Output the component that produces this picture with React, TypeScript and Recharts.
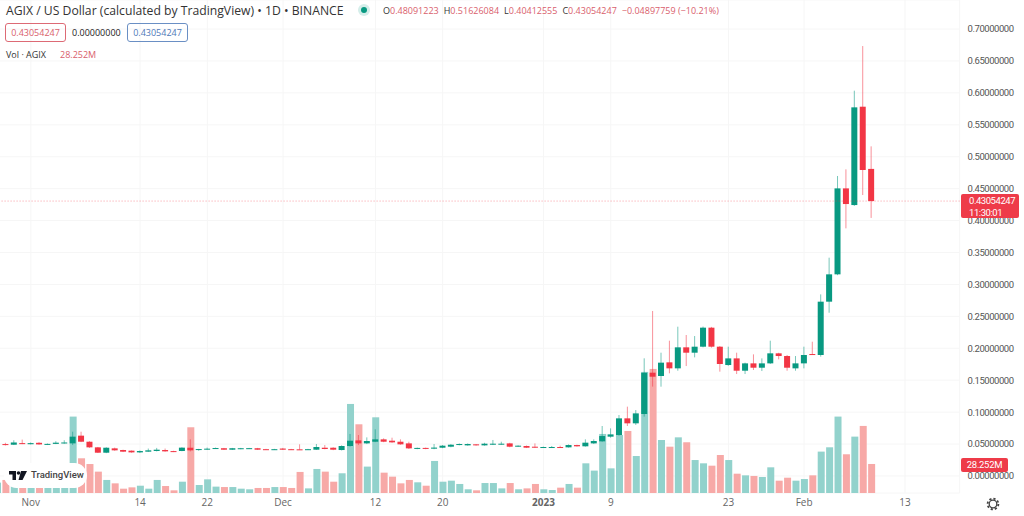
import React from "react";
import { ComposedChart, Bar, XAxis, YAxis, CartesianGrid, ReferenceLine } from "recharts";

const UP = "#089981";
const DOWN = "#f23645";
const UP_VOL = "#92d2cc";
const DOWN_VOL = "#f7a9a7";
const FONT = "'Open Sans', sans-serif";
const TIGHT = "Roboto, sans-serif";

// one entry per day, Oct 28 2022 to Feb 9 2023
const opens = [
  0.0485, 0.05, 0.049, 0.0515,
  0.0498, 0.052, 0.049, 0.0503, 0.051, 0.0511, 0.0632, 0.0537, 0.0449, 0.0365, 0.0433, 0.0407, 0.0397, 0.037, 0.0381,
  0.0392, 0.0407, 0.039, 0.0392, 0.0443, 0.0407, 0.0418, 0.0428, 0.0435, 0.0412, 0.0425, 0.0428, 0.0435, 0.042, 0.0414,
  0.043, 0.042, 0.0418, 0.0414, 0.0412, 0.0443, 0.0443, 0.0407, 0.047, 0.0558, 0.0511, 0.0537, 0.0574, 0.0553, 0.0537,
  0.0511, 0.0428, 0.044, 0.0428, 0.0443, 0.0459, 0.0485, 0.048, 0.0496, 0.048, 0.049, 0.0496, 0.0511, 0.0459, 0.047, 0.0459,
  0.0443, 0.0445, 0.0454, 0.0449, 0.0485, 0.0465, 0.0511, 0.0543, 0.0616, 0.0642, 0.0903, 0.0825, 0.0971, 0.1618, 0.1566,
  0.178, 0.1686, 0.2015, 0.1931, 0.2025, 0.2323, 0.2025, 0.1738, 0.1842, 0.1649, 0.1764, 0.1696, 0.1764, 0.1921, 0.1879, 0.1686,
  0.1764, 0.191, 0.1895, 0.273, 0.3158, 0.4504, 0.4243, 0.5783, 0.48091223,
];
const highs = [
  0.05, 0.052, 0.056, 0.057,
  0.0525, 0.053, 0.051, 0.0545, 0.056, 0.0694, 0.0694, 0.0545, 0.0455, 0.045, 0.0445, 0.0412, 0.04, 0.04, 0.043,
  0.044, 0.043, 0.0395, 0.045, 0.0574, 0.0425, 0.0445, 0.0445, 0.044, 0.044, 0.044, 0.044, 0.044, 0.0425, 0.0425,
  0.044, 0.0425, 0.0496, 0.0425, 0.0501, 0.0485, 0.045, 0.048, 0.0658, 0.0642, 0.0605, 0.0731, 0.059, 0.06, 0.0574,
  0.0537, 0.0445, 0.0445, 0.0501, 0.0485, 0.05, 0.051, 0.051, 0.05, 0.052, 0.0564, 0.0537, 0.052, 0.048, 0.0478, 0.0511,
  0.046, 0.047, 0.0475, 0.0495, 0.049, 0.0574, 0.0574, 0.0783, 0.0746, 0.0955, 0.1086, 0.1033, 0.1843, 0.2584, 0.1931,
  0.2119, 0.2338, 0.2208, 0.2192, 0.234, 0.2335, 0.2035, 0.2025, 0.1931, 0.1775, 0.1905, 0.1842, 0.2119, 0.193, 0.1895, 0.1879,
  0.2025, 0.2103, 0.2844, 0.3419, 0.4698, 0.4802, 0.6034, 0.6733, 0.51626084,
];
const lows = [
  0.048, 0.0478, 0.0485, 0.05,
  0.0495, 0.049, 0.0485, 0.05, 0.0505, 0.0485, 0.053, 0.044, 0.036, 0.0358, 0.0395, 0.0375, 0.0365, 0.036, 0.0378,
  0.0385, 0.038, 0.0375, 0.0388, 0.0385, 0.0395, 0.0412, 0.0425, 0.0408, 0.0408, 0.042, 0.0425, 0.0408, 0.041, 0.041,
  0.0408, 0.041, 0.041, 0.041, 0.0408, 0.0418, 0.0405, 0.04, 0.0459, 0.0485, 0.05, 0.053, 0.053, 0.052, 0.049,
  0.0423, 0.042, 0.042, 0.042, 0.0435, 0.045, 0.048, 0.0475, 0.0475, 0.0475, 0.0485, 0.049, 0.045, 0.0455, 0.0438, 0.044,
  0.044, 0.044, 0.044, 0.0445, 0.046, 0.046, 0.0501, 0.0537, 0.06, 0.063, 0.0783, 0.08, 0.093, 0.14, 0.1399,
  0.1608, 0.1649, 0.1722, 0.1858, 0.2015, 0.201, 0.1634, 0.1725, 0.1597, 0.1597, 0.166, 0.1644, 0.1755, 0.1827, 0.1649, 0.1649,
  0.1686, 0.1895, 0.1869, 0.2557, 0.3145, 0.3878, 0.423, 0.44, 0.40412555,
];
const closes = [
  0.0492, 0.0485, 0.0525, 0.0505,
  0.0515, 0.0495, 0.0503, 0.0522, 0.0525, 0.0616, 0.0537, 0.0449, 0.0365, 0.0443, 0.0402, 0.0381, 0.037, 0.0391, 0.0402,
  0.0412, 0.0386, 0.038, 0.0444, 0.0402, 0.0422, 0.0428, 0.0438, 0.0412, 0.0435, 0.0435, 0.0436, 0.0412, 0.0414, 0.042,
  0.0412, 0.0414, 0.0414, 0.042, 0.0454, 0.0423, 0.0412, 0.047, 0.0553, 0.0511, 0.0548, 0.0574, 0.0537, 0.0527, 0.0496,
  0.0433, 0.044, 0.0428, 0.0445, 0.0475, 0.049, 0.0501, 0.0501, 0.048, 0.0506, 0.0506, 0.0506, 0.0459, 0.0475, 0.0443, 0.0443,
  0.0454, 0.0454, 0.0445, 0.0485, 0.0465, 0.0522, 0.0548, 0.0626, 0.0652, 0.0903, 0.0825, 0.0981, 0.1617, 0.1555, 0.1775,
  0.1686, 0.2015, 0.1931, 0.2025, 0.2323, 0.2025, 0.1754, 0.1842, 0.1649, 0.1764, 0.1696, 0.1764, 0.1921, 0.1879, 0.1696, 0.1764,
  0.1895, 0.19, 0.273, 0.3158, 0.4504, 0.4259, 0.5773, 0.4792, 0.43054247,
];
// millions
const volumes = [
  10.1, 12.7, 6.5, 8,
  6, 7, 6, 7, 8, 74.4, 33.8, 28.2, 20.8, 12.7, 9.4, 4.2, 5.5, 7.1, 4.2,
  12.7, 6.8, 2.6, 11, 64, 7.8, 13.3, 6.2, 5.8, 5.8, 4.2, 3.6, 4.9, 4.9, 5.8,
  5.8, 4.9, 20.5, 4.5, 23.4, 20.8, 11, 19.2, 86.7, 66.9, 25.7, 73.7, 19.8, 15.9, 9.4,
  12.7, 10.4, 7.1, 31.2, 11, 12, 8.8, 3.6, 2.6, 9.7, 9.7, 4.5, 9.7, 3.6, 4.5, 8.8,
  3.6, 2.9, 5.2, 8.8, 5.2, 28.9, 21.8, 57.5, 24, 56.5, 60.4, 36, 117.9, 120.8, 51.6,
  45.1, 54.2, 49.4, 32.1, 28.9, 26.6, 37, 32.1, 18.8, 17.2, 16.6, 15.6, 25, 12, 14.9, 12,
  13.6, 17.2, 40.3, 44.5, 74.4, 37.7, 54.9, 65.3, 28.252,
];

// calendar slots, the axis runs on a few days past the last candle
const monthDays = [["10", 28, 31], ["11", 1, 30], ["12", 1, 31], ["01", 1, 31], ["02", 1, 19]] as const;
const categories: string[] = [];
monthDays.forEach(([m, from, to]) => {
  for (let d = from; d <= to; d++) categories.push(`${m}-${String(d).padStart(2, "0")}`);
});

const xTicks = ["11-01", "11-14", "11-22", "12-01", "12-12", "12-20", "01-01", "01-09", "01-23", "02-01", "02-13"];
const xLabels = ["Nov", "14", "22", "Dec", "12", "20", "2023", "9", "23", "Feb", "13"];
const yTicks = [0, 0.05, 0.1, 0.15, 0.2, 0.25, 0.3, 0.35, 0.4, 0.45, 0.5, 0.55, 0.6, 0.65, 0.7];

const data = categories.map((day, i) => ({
  day,
  open: opens[i],
  high: highs[i],
  low: lows[i],
  close: closes[i],
  range: i < opens.length ? [lows[i], highs[i]] : null,
  volume: volumes[i] ?? null,
}));

function Candle(props: any) {
  const { x, y, width, height, payload } = props;
  if (payload.open == null) return null;
  const perUnit = height / (payload.high - payload.low);
  const top = y + (payload.high - Math.max(payload.open, payload.close)) * perUnit;
  const bottom = y + (payload.high - Math.min(payload.open, payload.close)) * perUnit;
  const color = payload.close >= payload.open ? UP : DOWN;
  const mid = x + width / 2;
  return (
    <g>
      <line x1={mid} x2={mid} y1={y} y2={y + height} stroke={color} strokeOpacity={0.55} strokeWidth={1} />
      <rect x={x} y={top} width={width} height={Math.max(bottom - top, 1)} fill={color} />
    </g>
  );
}

function VolumeBar(props: any) {
  const { x, y, width, height, payload } = props;
  if (payload.volume == null) return null;
  return <rect x={x} y={y} width={width} height={height} fill={payload.close >= payload.open ? UP_VOL : DOWN_VOL} />;
}

function DayTick(props: any) {
  const { x, y, payload } = props;
  const label = xLabels[xTicks.indexOf(payload.value)];
  return (
    <text x={x} y={y} dy={5} textAnchor="middle" fontFamily={FONT} fontSize={10} fill="#666"
      fontWeight={label === "2023" ? 700 : 400}>
      {label}
    </text>
  );
}

const abs = (left: number, top: number, extra: React.CSSProperties = {}): React.CSSProperties => ({
  position: "absolute", left, top, whiteSpace: "nowrap", fontFamily: FONT, ...extra,
});

const ohlc = [["O", "0.48091223"], ["H", "0.51626084"], ["L", "0.40412555"], ["C", "0.43054247"]];

export default function App() {
  return (
    <div style={{ position: "absolute", left: 0, top: 0, width: 1024, height: 516, overflow: "hidden", background: "#fff" }}>
      <div style={{ position: "absolute", left: -6.6, top: 0 }}>
        <ComposedChart width={1030.6} height={516} data={data} margin={{ top: 0, right: 0, bottom: 0, left: 0 }}>
          <CartesianGrid stroke="#f6f6f6" xAxisId="price" yAxisId="price" />
          <XAxis xAxisId="vol" dataKey="day" hide />
          <XAxis xAxisId="price" dataKey="day" ticks={xTicks} interval={0} height={23} tick={<DayTick />}
            tickLine={false} axisLine={false} />
          <YAxis yAxisId="vol" domain={[0, 480]} hide />
          <YAxis yAxisId="price" orientation="right" width={64} domain={[-0.0266, 0.7454]} ticks={yTicks}
            allowDataOverflow axisLine={false} tickLine={false} tickSize={0} tickMargin={8}
            tickFormatter={(v: number) => v.toFixed(8)}
            tick={{ fontFamily: TIGHT, fontSize: 9.5, letterSpacing: -0.45, fill: "#555" }} />
          <Bar xAxisId="vol" yAxisId="vol" dataKey="volume" barSize={7} shape={<VolumeBar />} isAnimationActive={false} />
          <ReferenceLine xAxisId="price" yAxisId="price" y={0.43054247} stroke={DOWN} strokeOpacity={0.5}
            strokeDasharray="1 2" />
          <Bar xAxisId="price" yAxisId="price" dataKey="range" barSize={6} shape={<Candle />} isAnimationActive={false} />
        </ComposedChart>
      </div>

      <div style={abs(6, 2, { fontSize: 12.2, color: "#333" })}>AGIX / US Dollar (calculated by TradingView) • 1D • BINANCE</div>
      <div style={{ position: "absolute", left: 358, top: 4, width: 12, height: 12, borderRadius: 6, background: "#d5eeea" }} />
      <div style={{ position: "absolute", left: 361, top: 7, width: 6, height: 6, borderRadius: 3, background: UP }} />
      <div style={abs(383, 4, { fontSize: 9, color: "#d9606c" })}>
        {ohlc.map(([k, v]) => (
          <span key={k} style={{ marginRight: 5 }}><span style={{ color: "#333" }}>{k}</span>{v}</span>
        ))}
        <span>−0.04897759 (−10.21%)</span>
      </div>

      <div style={abs(5, 23, { width: 61, height: 19, boxSizing: "border-box", border: "1px solid #dd6a75", borderRadius: 3, color: "#d9606c", fontSize: 9, textAlign: "center", lineHeight: "17px" })}>0.43054247</div>
      <div style={abs(72, 26, { fontSize: 9, color: "#222" })}>0.00000000</div>
      <div style={abs(127, 23, { width: 61, height: 19, boxSizing: "border-box", border: "1px solid #6a8fc4", borderRadius: 3, color: "#4f79b8", fontSize: 9, textAlign: "center", lineHeight: "17px" })}>0.43054247</div>
      <div style={abs(6, 48, { fontSize: 9, color: "#333" })}>Vol · AGIX</div>
      <div style={abs(60, 48, { fontSize: 9, color: "#d9606c" })}>28.252M</div>

      <div style={abs(961, 194, { width: 58, height: 24, background: "#ee3b49", borderRadius: 2, color: "#fff", fontFamily: TIGHT, fontSize: 9.5, letterSpacing: -0.45, lineHeight: "11.5px", padding: "1px 0 0 8px", boxSizing: "border-box" })}>
        0.43054247<br />11:30:01
      </div>
      <div style={abs(961, 458, { width: 47, height: 14, background: "#ee3b49", borderRadius: 2, color: "#fff", fontFamily: TIGHT, fontSize: 9.5, letterSpacing: -0.3, lineHeight: "14px", textAlign: "center" })}>28.252M</div>

      <div style={{ position: "absolute", left: 4, top: 463, width: 83, height: 25, borderRadius: 13, background: "#fff" }} />
      <svg style={{ position: "absolute", left: 9, top: 471 }} width={18} height={10}>
        <path d="M0 0H7V9H3.5V3.5H0Z M12 0H18L13.5 9H9.5Z" fill="#131722" />
        <circle cx="9.5" cy="2" r="1.8" fill="#131722" />
      </svg>
      <div style={abs(31, 469, { fontFamily: TIGHT, fontSize: 9.5, fontWeight: 500, color: "#444" })}>TradingView</div>

      <svg style={{ position: "absolute", left: 986, top: 497 }} width={14} height={14}>
        <circle cx="7" cy="7" r="3.8" fill="none" stroke="#444" strokeWidth={1.3} />
        <circle cx="7" cy="7" r="5.4" fill="none" stroke="#444" strokeWidth={1.8} strokeDasharray="2.2 2" />
      </svg>
    </div>
  );
}
